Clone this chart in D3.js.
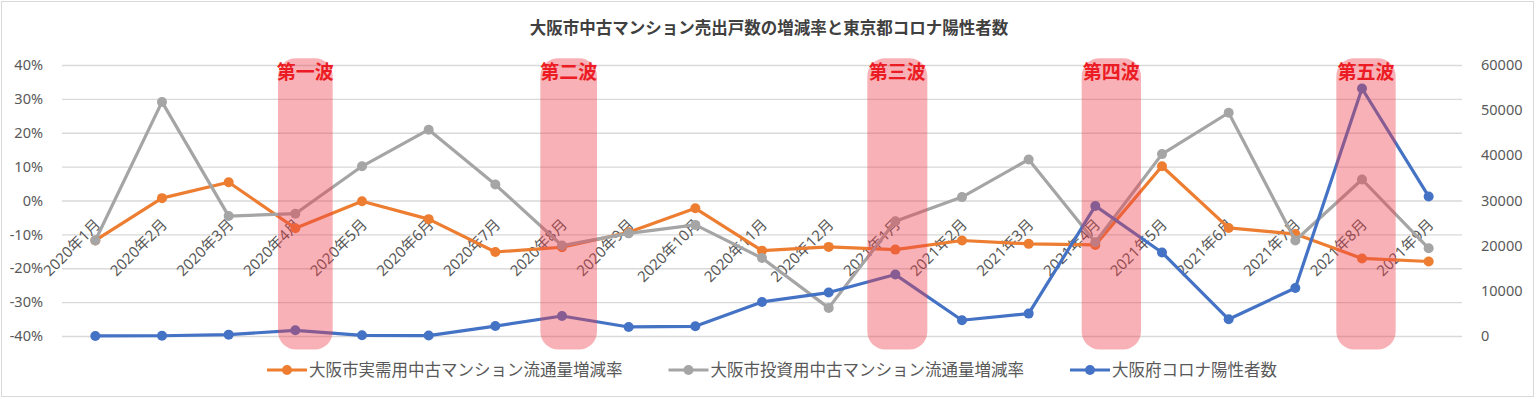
<!DOCTYPE html>
<html>
<head>
<meta charset="utf-8">
<script src="https://cdn.jsdelivr.net/npm/d3@7"></script>
<style>
  body { margin: 0; background: #fff; }
  svg { display: block; font-family: "Noto Sans", "Noto Sans CJK JP", sans-serif; }
</style>
</head>
<body>
<div id="chart"></div>
<script>
// data
const months = ["2020年1月","2020年2月","2020年3月","2020年4月","2020年5月","2020年6月","2020年7月",
  "2020年8月","2020年9月","2020年10月","2020年11月","2020年12月","2021年1月","2021年2月",
  "2021年3月","2021年4月","2021年5月","2021年6月","2021年7月","2021年8月","2021年9月"];
const jitsuju = [-11.8, 0.7, 5.4, -8.2, -0.2, -5.5, -15.2, -13.8, -9.4, -2.3, -14.8,
  -13.7, -14.5, -11.8, -12.8, -13.1, 10.1, -8.1, -9.9, -17.1, -18.0];
const toshi = [-11.8, 29.1, -4.6, -3.9, 10.1, 20.9, 4.7, -13.3, -9.7, -7.2, -17.0,
  -31.7, -6.1, 1.0, 12.1, -12.3, 13.7, 25.9, -11.8, 6.2, -14.1];
const corona = [10, 50, 300, 1260, 150, 100, 2200, 4430, 2000, 2150, 7540,
  9620, 13600, 3480, 4960, 28800, 18500, 3700, 10640, 54800, 30900];
const seriesNames = ["大阪市実需用中古マンション流通量増減率", "大阪市投資用中古マンション流通量増減率", "大阪府コロナ陽性者数"];
const leftTicks = [-40, -30, -20, -10, 0, 10, 20, 30, 40];
const rightTicks = [0, 10000, 20000, 30000, 40000, 50000, 60000];
const waveNames = ["第一波", "第二波", "第三波", "第四波", "第五波"];
const waveMonths = ["2020年4月", "2020年8月", "2021年1月", "2021年4月", "2021年8月"];
const title = "大阪市中古マンション売出戸数の増減率と東京都コロナ陽性者数";

const width = 1536, height = 399;
const margins = {top: 65, right: 74, bottom: 63, left: 62};
const colors = ["#ED7D31", "#A5A5A5", "#4472C4"];

const svg = d3.select("#chart").append("svg")
  .attr("width", width).attr("height", height);

// chart frame
svg.append("rect")
  .attr("x", 1.5).attr("y", 1.5)
  .attr("width", width - 4).attr("height", height - 4)
  .attr("fill", "#fff").attr("stroke", "#D9D9D9");

const x = d3.scaleBand()
  .domain(months)
  .range([margins.left, width - margins.right])
  .padding(0);
const xc = d => x(d) + x.bandwidth() / 2;

const yL = d3.scaleLinear()
  .domain([-40, 40])
  .range([height - margins.bottom, margins.top]);
const yR = d3.scaleLinear()
  .domain([0, 60000])
  .range([height - margins.bottom, margins.top]);

// gridlines
svg.append("g")
  .attr("transform", `translate(${margins.left},0)`)
  .call(d3.axisLeft(yL).tickValues(leftTicks).tickSize(-(width - margins.left - margins.right)).tickFormat(""))
  .call(g => g.select(".domain").remove())
  .call(g => g.selectAll("line").attr("stroke", "#D9D9D9").attr("stroke-width", 1.3));

// left axis
svg.append("g")
  .attr("transform", `translate(${margins.left - 16},0)`)
  .call(d3.axisLeft(yL).tickValues(leftTicks).tickSize(0).tickFormat(d => d + "%"))
  .call(g => g.select(".domain").remove())
  .call(g => g.selectAll("text").attr("fill", "#595959").style("font-size", "14.5px")
    .attr("font-family", "Noto Sans, sans-serif"));

// right axis
svg.append("g")
  .attr("transform", `translate(${width - margins.right + 16},0)`)
  .call(d3.axisRight(yR).tickValues(rightTicks).tickSize(0).tickFormat(d3.format("d")))
  .call(g => g.select(".domain").remove())
  .call(g => g.selectAll("text").attr("fill", "#595959").style("font-size", "14.5px")
    .attr("font-family", "Noto Sans, sans-serif"));

// category labels, rotated, hanging under the 0% line
svg.append("g")
  .selectAll("text")
  .data(months)
  .join("text")
    .attr("transform", d => `translate(${xc(d) + 6},${yL(0) + 25}) rotate(-45)`)
    .attr("text-anchor", "end")
    .attr("fill", "#595959")
    .style("font-size", "15px")
    .text(d => d);

// lines
const series = [
  {vals: jitsuju, y: yL, color: colors[0]},
  {vals: toshi, y: yL, color: colors[1]},
  {vals: corona, y: yR, color: colors[2]}
];
series.forEach(s => {
  const line = d3.line()
    .x((d, i) => xc(months[i]))
    .y(d => s.y(d));
  svg.append("path")
    .datum(s.vals)
    .attr("d", line)
    .attr("fill", "none")
    .attr("stroke", s.color)
    .attr("stroke-width", 3.2)
    .attr("stroke-linejoin", "round");
  svg.append("g")
    .selectAll("circle")
    .data(s.vals)
    .join("circle")
      .attr("cx", (d, i) => xc(months[i]))
      .attr("cy", d => s.y(d))
      .attr("r", 5)
      .attr("fill", s.color);
});

// wave highlights (small shift of each band off its month, as drawn in the original)
const waveShift = [0.15, 0.1, 0.03, 0.24, 0.06];
const waveWidth = [0.82, 0.85, 0.9, 0.89, 0.89];
const waves = waveNames.map((n, i) => ({name: n, month: waveMonths[i], shift: waveShift[i], w: waveWidth[i]}));
const bw = x.bandwidth();
svg.append("g")
  .selectAll("rect")
  .data(waves)
  .join("rect")
    .attr("x", d => xc(d.month) + d.shift * bw - d.w * bw / 2)
    .attr("y", yL(42))
    .attr("width", d => d.w * bw)
    .attr("height", yL(-44) - yL(42))
    .attr("rx", 18)
    .attr("fill", "#EE3C48")
    .attr("fill-opacity", 0.4);

svg.append("g")
  .selectAll("text")
  .data(waves)
  .join("text")
    .attr("x", d => xc(d.month) + d.shift * bw)
    .attr("y", yL(36))
    .attr("text-anchor", "middle")
    .attr("fill", "#EC1C24")
    .style("font-family", "Noto Sans CJK JP, sans-serif")
    .style("font-weight", 700)
    .style("font-size", "19px")
    .text(d => d.name);

// title
svg.append("text")
  .attr("x", width / 2 + 1)
  .attr("y", 34)
  .attr("text-anchor", "middle")
  .attr("fill", "#404040")
  .style("font-family", "Noto Sans CJK JP, sans-serif")
  .style("font-weight", 700)
  .style("font-size", "16.5px")
  .text(title);

// legend
const legend = svg.append("g");
const items = legend.selectAll("g")
  .data(seriesNames)
  .join("g");
items.append("line")
  .attr("x1", 0).attr("x2", 40).attr("y1", 0).attr("y2", 0)
  .attr("stroke", (d, i) => colors[i]).attr("stroke-width", 3.2);
items.append("circle")
  .attr("cx", 20).attr("cy", 0).attr("r", 5)
  .attr("fill", (d, i) => colors[i]);
items.append("text")
  .attr("x", 42).attr("dy", "0.35em")
  .attr("fill", "#595959")
  .style("font-family", "Noto Sans CJK JP, sans-serif")
  .style("font-size", "16.5px")
  .text(d => d);
let pos = 0;
const gap = 46;
items.each(function () {
  const w = this.getBBox().width;
  d3.select(this).attr("transform", `translate(${pos},0)`);
  pos += w + gap;
});
const total = pos - gap;
legend.attr("transform", `translate(${(width - total) / 2 + 4},370)`);
</script>
</body>
</html>
